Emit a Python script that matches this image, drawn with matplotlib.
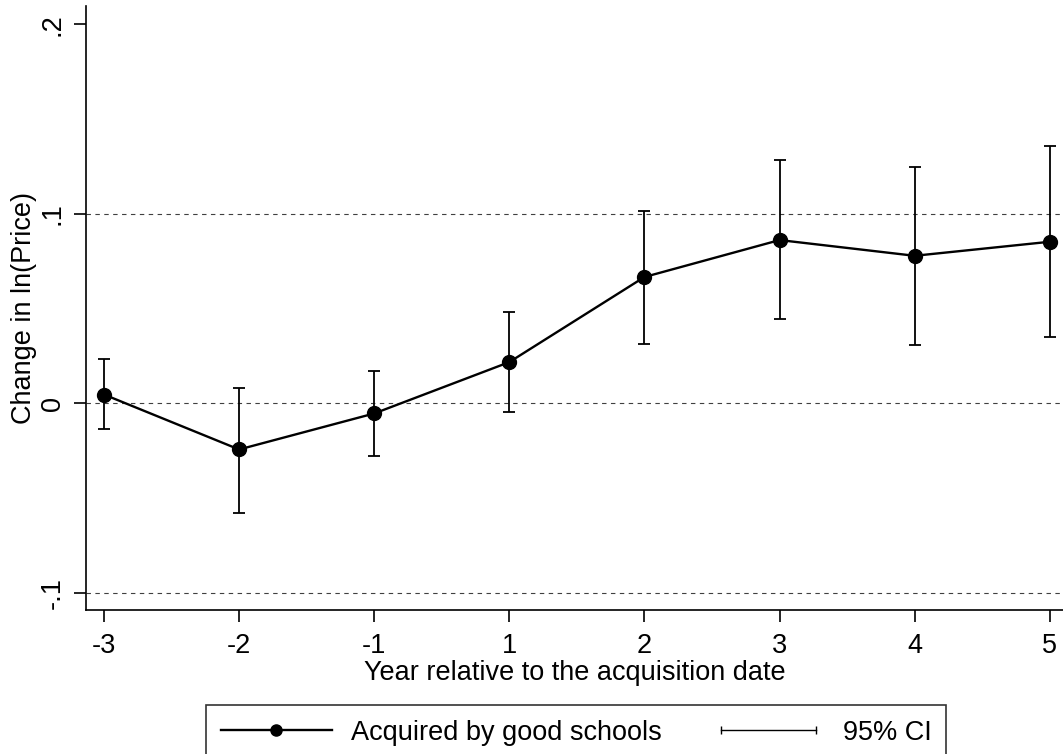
import matplotlib.pyplot as plt
from matplotlib.lines import Line2D
from matplotlib.legend_handler import HandlerLine2D

# === DATA ===
years = ['-3', '-2', '-1', '1', '2', '3', '4', '5']
estimate = [0.0047, -0.0243, -0.0053, 0.0218, 0.0667, 0.0862, 0.0779, 0.0853]
ci_low = [-0.0137, -0.0580, -0.0280, -0.0047, 0.0315, 0.0446, 0.0309, 0.0350]
ci_high = [0.0232, 0.0084, 0.0172, 0.0483, 0.1017, 0.1282, 0.1250, 0.1358]
y_ticks = [-0.1, 0, 0.1, 0.2]
y_ticklabels = ['-.1', '0', '.1', '.2']

plt.rcParams['font.family'] = ['Liberation Sans', 'DejaVu Sans']
plt.rcParams['font.size'] = 19.5

fig = plt.figure(figsize=(10.63, 7.54), dpi=100)
ax = fig.add_axes([86 / 1063, 1 - 610 / 754, 1 - 86 / 1063, (610 - 6) / 754])

x = list(range(len(years)))
err_lo = [e - lo for e, lo in zip(estimate, ci_low)]
err_hi = [hi - e for e, hi in zip(estimate, ci_high)]

ax.errorbar(x, estimate, yerr=[err_lo, err_hi], fmt='none', ecolor='black',
            elinewidth=1.3, capsize=4, capthick=1.3, zorder=3)
ax.plot(x, estimate, color='black', lw=1.7, marker='o', ms=10, zorder=4)

ax.set_xlim(-0.133, 7.098)
ax.set_ylim(-0.109, 0.2097)
ax.set_xticks(x)
ax.set_xticklabels(years)
ax.set_yticks(y_ticks)
ax.set_yticklabels(y_ticklabels, rotation=90, va='center')

for v in [-0.1, 0, 0.1]:
    ax.axhline(v, color='0.25', lw=0.8, ls=(0, (4, 4)), zorder=1)

for s in ['top', 'right']:
    ax.spines[s].set_visible(False)
for s in ['left', 'bottom']:
    ax.spines[s].set_linewidth(1.2)
ax.tick_params(axis='both', length=8.5, width=1.2, direction='out')
ax.tick_params(axis='x', pad=8)
ax.tick_params(axis='y', pad=6)

ax.set_xlabel('Year relative to the acquisition date', labelpad=0.5)
ax.set_ylabel('Change in ln(Price)', labelpad=2)

# legend
h_est = Line2D([], [], color='black', lw=1.7, marker='o', ms=8)
h_ci = Line2D([], [], color='black', lw=1.0, marker='|', ms=6, mew=1.0)
leg = fig.legend([h_est, h_ci], ['Acquired by good schools', '95% CI'],
                 handler_map={h_ci: HandlerLine2D(numpoints=2)},
                 loc='upper center', bbox_to_anchor=(576 / 1063, 1 - 705 / 754),
                 borderaxespad=0,
                 ncol=2, frameon=True, fancybox=False, edgecolor='black',
                 handlelength=4.1, handletextpad=0.7, columnspacing=1.9,
                 borderpad=0.55)
leg.get_frame().set_linewidth(1.2)

fig.savefig('out.png', dpi=100)
